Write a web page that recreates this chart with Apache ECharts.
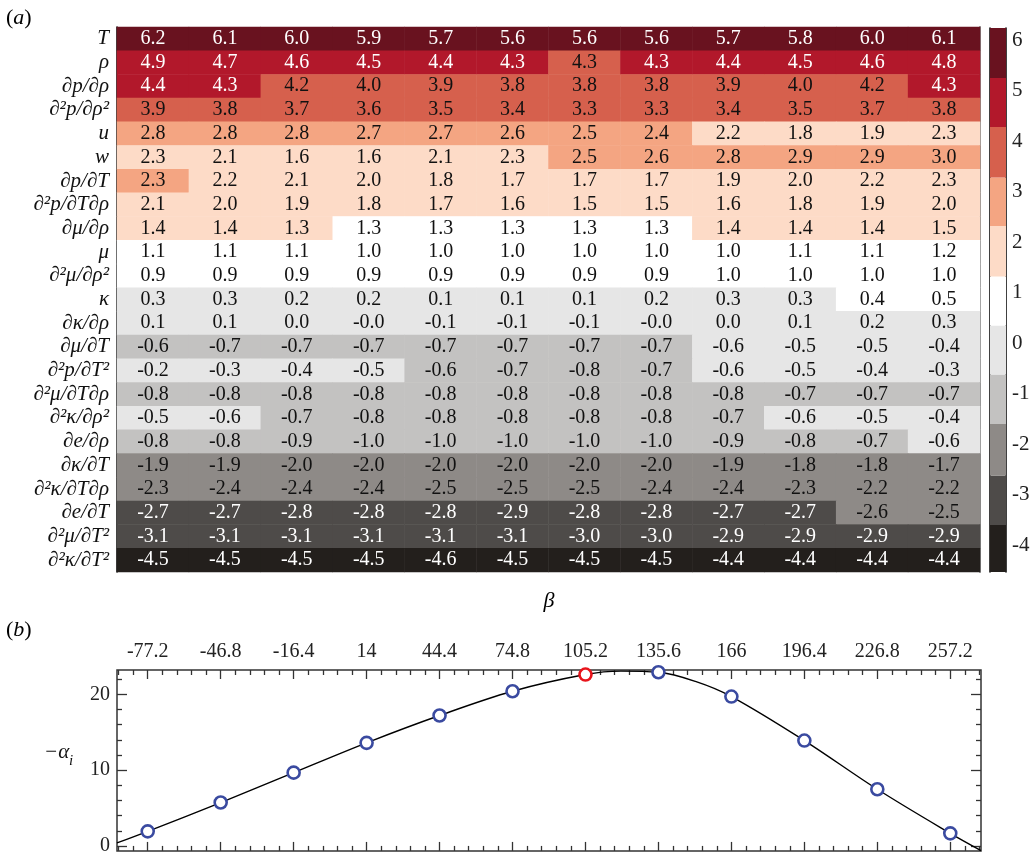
<!DOCTYPE html>
<html><head><meta charset="utf-8">
<script src="https://cdn.jsdelivr.net/npm/echarts@6/dist/echarts.min.js"></script>
<style>html,body{margin:0;padding:0;background:#fff}#c{width:1036px;height:856px}</style>
</head><body><div id="c"></div>
<script>
const rowLabels = ["T","ρ","∂p/∂ρ","∂²p/∂ρ²","u","w","∂p/∂T","∂²p/∂T∂ρ","∂μ/∂ρ","μ","∂²μ/∂ρ²","κ","∂κ/∂ρ","∂μ/∂T","∂²p/∂T²","∂²μ/∂T∂ρ","∂²κ/∂ρ²","∂e/∂ρ","∂κ/∂T","∂²κ/∂T∂ρ","∂e/∂T","∂²μ/∂T²","∂²κ/∂T²"];
const betaTicks = [-77.2,-46.8,-16.4,14,44.4,74.8,105.2,135.6,166,196.4,226.8,257.2];
const heatValues = [
 [6.2,6.1,6.0,5.9,5.7,5.6,5.6,5.6,5.7,5.8,6.0,6.1],
 [4.9,4.7,4.6,4.5,4.4,4.31,4.26,4.31,4.4,4.5,4.6,4.8],
 [4.4,4.3,4.2,4.0,3.9,3.8,3.8,3.8,3.9,4.0,4.2,4.3],
 [3.9,3.8,3.7,3.6,3.5,3.4,3.3,3.3,3.4,3.5,3.7,3.8],
 [2.8,2.8,2.8,2.7,2.7,2.6,2.5,2.4,2.2,1.8,1.9,2.28],
 [2.3,2.1,1.6,1.6,2.1,2.3,2.5,2.6,2.8,2.9,2.9,3.0],
 [2.33,2.2,2.1,2.0,1.8,1.7,1.7,1.7,1.9,2.0,2.2,2.3],
 [2.1,2.0,1.9,1.8,1.7,1.6,1.5,1.5,1.6,1.8,1.9,2.0],
 [1.4,1.4,1.33,1.3,1.3,1.3,1.3,1.3,1.4,1.4,1.4,1.5],
 [1.1,1.1,1.1,1.0,1.0,1.0,1.0,1.0,1.0,1.1,1.1,1.2],
 [0.9,0.9,0.9,0.9,0.9,0.9,0.9,0.9,1.0,1.0,1.0,1.0],
 [0.3,0.3,0.2,0.2,0.1,0.1,0.1,0.2,0.3,0.3,0.4,0.5],
 [0.1,0.1,0.0,-0.02,-0.1,-0.1,-0.1,-0.02,0.0,0.1,0.2,0.3],
 [-0.63,-0.7,-0.7,-0.7,-0.7,-0.7,-0.7,-0.7,-0.6,-0.5,-0.5,-0.4],
 [-0.2,-0.3,-0.4,-0.5,-0.63,-0.7,-0.8,-0.7,-0.6,-0.5,-0.4,-0.3],
 [-0.8,-0.8,-0.8,-0.8,-0.8,-0.8,-0.8,-0.8,-0.8,-0.7,-0.7,-0.7],
 [-0.5,-0.6,-0.7,-0.8,-0.8,-0.8,-0.8,-0.8,-0.7,-0.6,-0.5,-0.4],
 [-0.8,-0.8,-0.9,-1.0,-1.0,-1.0,-1.0,-1.0,-0.9,-0.8,-0.7,-0.6],
 [-1.9,-1.9,-2.0,-2.0,-2.0,-2.0,-2.0,-2.0,-1.9,-1.8,-1.8,-1.7],
 [-2.3,-2.4,-2.4,-2.4,-2.5,-2.5,-2.5,-2.4,-2.4,-2.3,-2.2,-2.2],
 [-2.7,-2.7,-2.8,-2.8,-2.8,-2.9,-2.8,-2.8,-2.7,-2.7,-2.6,-2.5],
 [-3.1,-3.1,-3.1,-3.1,-3.1,-3.1,-3.0,-3.0,-2.9,-2.9,-2.9,-2.9],
 [-4.5,-4.5,-4.5,-4.5,-4.6,-4.5,-4.5,-4.5,-4.4,-4.4,-4.4,-4.4]
];
const thresholds = [-3.6,-2.62,-1.6,-0.62,0.35,1.32,2.32,3.28,4.28,5.25];
const palette = ['#231f1c','#4e4b49','#8e8a87','#c3c2c1','#e6e6e6','#ffffff','#fddbc7','#f4a582','#d6604d','#b2182b','#69121f'];
const lightTextBins = [0,1,9,10];
const barMin = -4.53, barMax = 6.24;
const barTicks = [-4,-3,-2,-1,0,1,2,3,4,5,6];
const alphaPoints = [1.93,5.73,9.67,13.6,17.2,20.4,22.6,22.9,19.7,13.9,7.48,1.67];
const highlightIndex = 6;
const curveBeta = [-90,-77.2,-46.8,-16.4,14,44.4,74.8,105.2,120,135.6,151,166,196.4,226.8,257.2,270];
const curveAlpha = [0.4,1.93,5.73,9.67,13.6,17.2,20.4,22.6,23.05,22.9,21.7,19.7,13.9,7.48,1.67,-0.6];
const yMajor = [0,10,20];
const yMinor = [2,4,6,8,12,14,16,18,22];

const FF = '"Liberation Serif", serif';
function binOf(v){let i=0;while(i<thresholds.length && v>=thresholds[i]) i++;return i;}
const pieces = palette.map((c,i)=>{
  const p = {color:c};
  if (i>0) p.gte = thresholds[i-1];
  if (i<palette.length-1) p.lt = thresholds[i];
  return p;
});
const heatData = [];
heatValues.forEach((row,r)=>row.forEach((v,c)=>heatData.push([c,r,v])));
const minorBeta = [];
const step = (betaTicks[1]-betaTicks[0])/5;
for (let k=-2;k<=60;k++){const b=+(betaTicks[0]+k*step).toFixed(3); if(b>=-90&&b<=270&&k%5!==0) minorBeta.push(b);}
const bands = [];
const edges = [barMin, ...thresholds, barMax];
for (let i=0;i<palette.length;i++) bands.push([{yAxis:edges[i],itemStyle:{color:palette[i]}},{yAxis:edges[i+1]}]);

const chart = echarts.init(document.getElementById('c'));
const tickAx = (pos, vals, len, labels) => ({
  type:'value', gridIndex:2, position:pos, min:-90, max:270,
  axisLine:{show:false, onZero:false}, splitLine:{show:false},
  axisTick:{show:true, inside:true, length:len, customValues:vals, lineStyle:{color:'#333',width:1.3}},
  axisLabel: labels ? {show:true, customValues:vals, fontFamily:FF, fontSize:20, color:'#222', margin:8} : {show:false}
});
const tickAy = (pos, vals, len, labels) => ({
  type:'value', gridIndex:2, position:pos, min:-0.65, max:23.2,
  axisLine:{show:false, onZero:false}, splitLine:{show:false},
  axisTick:{show:true, inside:true, length:len, customValues:vals, lineStyle:{color:'#333',width:1.3}},
  axisLabel: labels ? {show:true, customValues:vals, fontFamily:FF, fontSize:20, color:'#222', margin:7} : {show:false}
});
chart.setOption({
  animation:false,
  backgroundColor:'#fff',
  grid:[
    {left:117, top:27, width:863, height:545},
    {left:990, top:28, width:16, height:544},
    {left:117, top:670, width:864, height:182, show:true, borderColor:'#333', borderWidth:1.5, backgroundColor:'transparent'}
  ],
  xAxis:[
    {type:'category', gridIndex:0, data:betaTicks.map(String), show:false},
    {type:'value', gridIndex:1, min:0, max:1, show:false},
    tickAx('top', betaTicks, 9, true),
    tickAx('top', minorBeta, 5, false),
    tickAx('bottom', betaTicks, 9, false),
    tickAx('bottom', minorBeta, 5, false)
  ],
  yAxis:[
    {type:'category', gridIndex:0, data:rowLabels, inverse:true,
     axisLine:{show:true, onZero:false, lineStyle:{color:'#000', width:1.5}}, axisTick:{show:false},
     axisLabel:{interval:0, fontFamily:FF, fontStyle:'italic', fontSize:21, color:'#111', margin:8}},
    {type:'category', gridIndex:0, data:rowLabels, inverse:true, position:'right',
     axisLine:{show:true, onZero:false, lineStyle:{color:'#888', width:2}}, axisTick:{show:false}, axisLabel:{show:false}},
    {type:'value', gridIndex:1, min:barMin, max:barMax, position:'left',
     axisLine:{show:true, onZero:false, lineStyle:{color:'#000', width:1.5}}, axisTick:{show:false}, axisLabel:{show:false}, splitLine:{show:false}},
    {type:'value', gridIndex:1, min:barMin, max:barMax, position:'right',
     axisLine:{show:true, onZero:false, lineStyle:{color:'#000', width:1.5}},
     axisTick:{show:true, inside:true, length:5, customValues:barTicks, lineStyle:{color:'#000', width:1}},
     axisLabel:{show:true, customValues:barTicks, fontFamily:FF, fontSize:21, color:'#222', margin:6},
     splitLine:{show:false}},
    tickAy('left', yMajor, 10, true),
    tickAy('left', yMinor, 5, false),
    tickAy('right', yMajor, 10, false),
    tickAy('right', yMinor, 5, false)
  ],
  visualMap:{type:'piecewise', show:false, seriesIndex:0, dimension:2, pieces:pieces},
  series:[
    {type:'heatmap', xAxisIndex:0, yAxisIndex:0, data:heatData,
     label:{show:true, formatter:p=>{const v=p.value[2];const k=lightTextBins.includes(binOf(v))?'w':'k';return '{'+k+'|'+v.toFixed(1)+'}';},
       rich:{w:{color:'#fff', fontFamily:FF, fontSize:20}, k:{color:'#111', fontFamily:FF, fontSize:20}}},
     emphasis:{disabled:true}},
    {type:'line', xAxisIndex:1, yAxisIndex:3, data:[[0.5,0]], symbol:'none', lineStyle:{opacity:0}, silent:true,
     markArea:{silent:true, data:bands}},
    {type:'line', xAxisIndex:2, yAxisIndex:4, smooth:0.35, symbol:'none',
     data:curveBeta.map((b,i)=>[b,curveAlpha[i]]), lineStyle:{color:'#000', width:1.4}, z:3},
    {type:'scatter', xAxisIndex:2, yAxisIndex:4, clip:false, symbol:'circle', symbolSize:12,
     data:betaTicks.map((b,i)=>[b,alphaPoints[i]]).filter((d,i)=>i!==highlightIndex),
     itemStyle:{color:'#fff', borderColor:'#3a4aa0', borderWidth:2.6, opacity:1}, z:5},
    {type:'scatter', xAxisIndex:2, yAxisIndex:4, clip:false, symbol:'circle', symbolSize:12,
     data:[[betaTicks[highlightIndex], alphaPoints[highlightIndex]]],
     itemStyle:{color:'#fff', borderColor:'#e8141b', borderWidth:2.6, opacity:1}, z:6}
  ],
  graphic:[
    {type:'text', x:6, y:18, style:{text:'{n|(}{i|a}{n|)}', verticalAlign:'middle', rich:{n:{fontFamily:FF, fontSize:22, fill:'#000'}, i:{fontFamily:FF, fontSize:22, fontStyle:'italic', fill:'#000'}}}},
    {type:'text', x:6, y:630, style:{text:'{n|(}{i|b}{n|)}', verticalAlign:'middle', rich:{n:{fontFamily:FF, fontSize:22, fill:'#000'}, i:{fontFamily:FF, fontSize:22, fontStyle:'italic', fill:'#000'}}}},
    {type:'text', x:549, y:601, style:{text:'β', align:'center', verticalAlign:'middle', fontFamily:FF, fontSize:22, fontStyle:'italic', fill:'#000'}},
    {type:'text', x:44, y:752, style:{text:'−α', align:'left', verticalAlign:'middle', fontFamily:FF, fontSize:21, fontStyle:'italic', fill:'#111'}},
    {type:'text', x:69, y:761, style:{text:'i', align:'left', verticalAlign:'middle', fontFamily:FF, fontSize:15, fontStyle:'italic', fill:'#111'}}
  ]
});
</script></body></html>
